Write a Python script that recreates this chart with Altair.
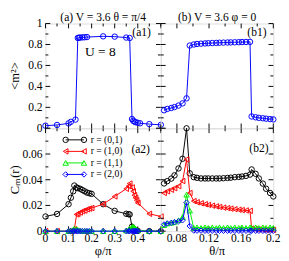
import altair as alt
import pandas as pd

FONT = "Liberation Serif"

# ---------------- data ----------------
# (a1) <m^2> vs phi/pi
phi_a1 = [0.0, 0.05, 0.1, 0.11, 0.13, 0.14, 0.145, 0.15, 0.16, 0.17, 0.18, 0.25, 0.3, 0.35, 0.365,
          0.375, 0.38, 0.385, 0.39, 0.4, 0.41, 0.45, 0.5]
m2_a1 = [0.025, 0.032, 0.047, 0.062, 0.083, 0.862, 0.865, 0.866, 0.868, 0.869, 0.871, 0.878, 0.875, 0.866, 0.862,
         0.089, 0.072, 0.065, 0.058, 0.053, 0.048, 0.040, 0.033]

# (a2) C_m(r) vs phi/pi
phi_a2 = [0.0, 0.05, 0.1, 0.11, 0.12, 0.125, 0.135, 0.14, 0.15, 0.16, 0.17, 0.18, 0.19, 0.2, 0.25, 0.3,
          0.35, 0.36, 0.365, 0.375, 0.38, 0.385, 0.39, 0.395, 0.4, 0.45, 0.5]
c01_a2 = [0.0114, 0.0134, 0.021, 0.026, 0.031, 0.0355, 0.034, 0.0335, 0.033, 0.032, 0.031, 0.030, 0.0295, 0.029,
          0.021, 0.0158, 0.0135, 0.0132, 0.013, 0.0035, 0.0015, 0.0008, 0.0005, 0.0003, 0.0002, 0.0, 0.0]
c10_a2 = [0.0, 0.0, 0.0, 0.0, 0.0005, 0.0015, 0.013, 0.0135, 0.0145, 0.0155, 0.016, 0.017, 0.0175, 0.018,
          0.021, 0.027, 0.033, 0.035, 0.037, 0.034, 0.031, 0.028, 0.026, 0.024, 0.022, 0.0135, 0.0114]
c11_a2 = [0.0, 0.0, 0.0, 0.0005, 0.001, 0.002, 0.0015, 0.001, 0.0005, 0.0003, 0.0002, 0.0001, 0.0, 0.0,
          0.0, 0.0, 0.0005, 0.001, 0.002, 0.003, 0.0035, 0.003, 0.002, 0.001, 0.0005, 0.0, 0.0]
c20_a2 = [0.0, 0.0, 0.0, 0.0, 0.0, 0.0, 0.0, 0.0, 0.0, 0.0, 0.0, 0.0, 0.0, 0.0,
          0.0, 0.0, 0.0, 0.0, 0.0, 0.0, 0.0, 0.0, 0.0, 0.0, 0.0, 0.0, 0.0]

# (b) vs theta/pi
theta_b = [0.064, 0.068, 0.073, 0.077, 0.082, 0.087, 0.092,
           0.096, 0.101, 0.105, 0.110, 0.115, 0.119, 0.124, 0.129, 0.133, 0.138, 0.143, 0.147, 0.152,
           0.157, 0.161, 0.166, 0.171,
           0.173, 0.178, 0.182, 0.187, 0.191, 0.196, 0.2]
m2_b1 = [0.172, 0.185, 0.194, 0.203, 0.217, 0.238, 0.286,
         0.790, 0.800, 0.805, 0.808, 0.810, 0.812, 0.814, 0.815, 0.817, 0.818, 0.819, 0.820, 0.821,
         0.822, 0.823, 0.824, 0.825,
         0.113, 0.105, 0.100, 0.096, 0.092, 0.088, 0.085]
c01_b2 = [0.0371, 0.0389, 0.0409, 0.0434, 0.0488, 0.0563, 0.080,
          0.045, 0.042, 0.0415, 0.041, 0.041, 0.041, 0.041, 0.041, 0.041, 0.0412, 0.0414, 0.0416, 0.042,
          0.0422, 0.0425, 0.043, 0.044,
          0.048, 0.0446, 0.041, 0.037, 0.033, 0.0297, 0.027]
c10_b2 = [0.0297, 0.031, 0.0322, 0.0334, 0.035, 0.039, 0.0558,
          0.0297, 0.0234, 0.0225, 0.0217, 0.021, 0.0204, 0.0198, 0.0193, 0.0188, 0.0183, 0.0179, 0.0175, 0.0171,
          0.0167, 0.0164, 0.0161, 0.0158,
          0.002, 0.0015, 0.0013, 0.0012, 0.001, 0.001, 0.001]
c11_b2 = [0.0047, 0.006, 0.0065, 0.0072, 0.0085, 0.011, 0.0284,
          0.016, 0.0025, 0.003, 0.0025, 0.003, 0.0025, 0.003, 0.0025, 0.003, 0.0025, 0.003, 0.0025, 0.003,
          0.0025, 0.003, 0.0025, 0.003,
          0.0025, 0.003, 0.0025, 0.003, 0.0025, 0.003, 0.0025]
c20_b2 = [0.0052, 0.006, 0.0065, 0.007, 0.0077, 0.0085, 0.0222,
          0.004, 0.0005, 0.0004, 0.0004, 0.0003, 0.0003, 0.0003, 0.0003, 0.0003, 0.0003, 0.0003, 0.0003, 0.0003,
          0.0003, 0.0003, 0.0003, 0.0003,
          0.0003, 0.0003, 0.0003, 0.0003, 0.0003, 0.0003, 0.0003]

legend_labels = ["r = (0,1)", "r = (1,0)", "r = (1,1)", "r = (2,0)"]
series_colors = ["#000000", "#ff0000", "#00ee00", "#0000ff"]
series_shapes = ["circle", "triangle-left", "triangle-up", "diamond"]

# tick values
xa_major = [0, 0.1, 0.2, 0.3, 0.4, 0.5]
xa_minor = [0.05, 0.15, 0.25, 0.35, 0.45]
xa_labels = [0, 0.1, 0.2, 0.3, 0.4]
xb_major = [0.08, 0.12, 0.16, 0.2]
xb_minor = [0.06, 0.1, 0.14, 0.18]
xb_labels = [0.08, 0.12, 0.16, 0.2]
y1_major = [0, 0.2, 0.4, 0.6, 0.8, 1.0]
y1_minor = [0.1, 0.3, 0.5, 0.7, 0.9]
y2_major = [0, 0.02, 0.04, 0.06, 0.08]
y2_minor = [0.01, 0.03, 0.05, 0.07]
y2_labels = [0, 0.02, 0.04, 0.06]

# ---------------- layout ----------------
WL, WR = 120, 117
HT, HB = 109, 107
MS = 32

one = pd.DataFrame({"a": [0]})


def tick_layers(xs, ys, xmaj, xmin, ymaj, ymin, W, H):
    out = []
    for vals, L in ((xmaj, 5), (xmin, 3)):
        base = alt.Chart(pd.DataFrame({"v": vals})).mark_rule(color="black", strokeWidth=1)
        enc_x = alt.X("v:Q", scale=xs, axis=None)
        out.append(base.encode(x=enc_x, y=alt.value(H), y2=alt.value(H - L)))
        out.append(base.encode(x=enc_x, y=alt.value(0), y2=alt.value(L)))
    for vals, L in ((ymaj, 5), (ymin, 3)):
        base = alt.Chart(pd.DataFrame({"v": vals})).mark_rule(color="black", strokeWidth=1)
        enc_y = alt.Y("v:Q", scale=ys, axis=None)
        out.append(base.encode(y=enc_y, x=alt.value(0), x2=alt.value(L)))
        out.append(base.encode(y=enc_y, x=alt.value(W - L), x2=alt.value(W)))
    return out


def ylabels(vals, ys, fmt):
    return alt.Chart(pd.DataFrame({"v": vals})).mark_text(
        align="right", baseline="middle", font=FONT, fontSize=12, color="black").encode(
        y=alt.Y("v:Q", scale=ys, axis=None), x=alt.value(-3), text=alt.Text("v:Q", format=fmt))


def xlabels(vals, xs, fmt, H):
    return alt.Chart(pd.DataFrame({"v": vals})).mark_text(
        align="center", baseline="top", font=FONT, fontSize=12, color="black").encode(
        x=alt.X("v:Q", scale=xs, axis=None), y=alt.value(H + 2), text=alt.Text("v:Q", format=fmt))


def series(x, y, color, shape, xs, ys):
    df = pd.DataFrame({"x": x, "y": y})
    base = alt.Chart(df).encode(
        x=alt.X("x:Q", scale=xs, axis=None),
        y=alt.Y("y:Q", scale=ys, axis=None),
    )
    return [base.mark_line(color=color, strokeWidth=1),
            base.mark_point(shape=shape, color=color, filled=False, size=MS, strokeWidth=1, opacity=1)]


def text(t, x, y, size, align="center", baseline="middle", angle=0):
    return alt.Chart(one).mark_text(text=t, font=FONT, fontSize=size, align=align, angle=angle,
                                    baseline=baseline, color="black").encode(
        x=alt.value(x), y=alt.value(y))


xs_a = alt.Scale(domain=[0, 0.5], nice=False, zero=False)
xs_b = alt.Scale(domain=[0.06, 0.2], nice=False, zero=False)
ys_1 = alt.Scale(domain=[0, 1], nice=False, zero=False)
ys_2 = alt.Scale(domain=[0, 0.08], nice=False, zero=False)

# (a1)
a1_layers = tick_layers(xs_a, ys_1, xa_major, xa_minor, y1_major, y1_minor, WL, HT)
a1_layers += series(phi_a1, m2_a1, "#0000ff", "circle", xs_a, ys_1)
a1_layers += [ylabels(y1_major, ys_1, ".1~f"),
              text("<m²>", -32, HT / 2, 13, angle=270),
              text("U = 8", 57, 30, 14), text("(a1)", 100, 9, 12),
              text("(a) V = 3.6  θ = π/4", WL / 2, -3, 12, baseline="alphabetic")]
a1 = alt.layer(*a1_layers).properties(width=WL, height=HT)

# (b1)
b1_layers = tick_layers(xs_b, ys_1, xb_major, xb_minor, y1_major, y1_minor, WR, HT)
b1_layers += series(theta_b, m2_b1, "#0000ff", "circle", xs_b, ys_1)
b1_layers += [text("(b1)", 100, 9, 12),
              text("(b) V = 3.6 φ = 0", WR / 2, -3, 12, baseline="alphabetic")]
b1 = alt.layer(*b1_layers).properties(width=WR, height=HT)

# (a2)
a2_layers = tick_layers(xs_a, ys_2, xa_major, xa_minor, y2_major, y2_minor, WL, HB)
a2_vals = [c01_a2, c10_a2, c11_a2, c20_a2]
for i, vals in enumerate(a2_vals):
    a2_layers += series(phi_a2, vals, series_colors[i], series_shapes[i], xs_a, ys_2)
for i, lab in enumerate(legend_labels):
    yy = 12 + 12 * i
    a2_layers.append(alt.Chart(one).mark_rule(color=series_colors[i], strokeWidth=1).encode(
        x=alt.value(21), x2=alt.value(40), y=alt.value(yy)))
    for xx in (21, 40):
        a2_layers.append(alt.Chart(one).mark_point(shape=series_shapes[i], color=series_colors[i],
                                                   filled=False, size=MS, strokeWidth=1, opacity=1).encode(
            x=alt.value(xx), y=alt.value(yy)))
    a2_layers.append(text(lab, 47, yy, 10, align="left"))
a2_layers += [text("(a2)", 99, 22, 12),
              ylabels(y2_labels, ys_2, ".2~f"),
              xlabels(xa_labels, xs_a, ".1~f", HB),
              text("Cₘ(r)", -32, HB / 2, 13, angle=270),
              text("φ/π", WL / 2, HB + 21, 13)]
a2 = alt.layer(*a2_layers).properties(width=WL, height=HB)

# (b2)
b2_layers = tick_layers(xs_b, ys_2, xb_major, xb_minor, y2_major, y2_minor, WR, HB)
b2_vals = [c01_b2, c10_b2, c11_b2, c20_b2]
for i, vals in enumerate(b2_vals):
    b2_layers += series(theta_b, vals, series_colors[i], series_shapes[i], xs_b, ys_2)
b2_layers += [text("(b2)", 102, 21, 12),
              xlabels(xb_labels, xs_b, ".2~f", HB),
              text("θ/π", WR / 2, HB + 21, 13)]
b2 = alt.layer(*b2_layers).properties(width=WR, height=HB)

chart = alt.concat(a1, b1, a2, b2, columns=2, spacing=0, bounds="flush").properties(
    padding={"left": 0, "top": -3, "right": 0, "bottom": 0}
).configure_view(stroke="black", strokeWidth=1).configure(font=FONT)

chart.save("out.html", embed_options={"renderer": "svg", "actions": False})
